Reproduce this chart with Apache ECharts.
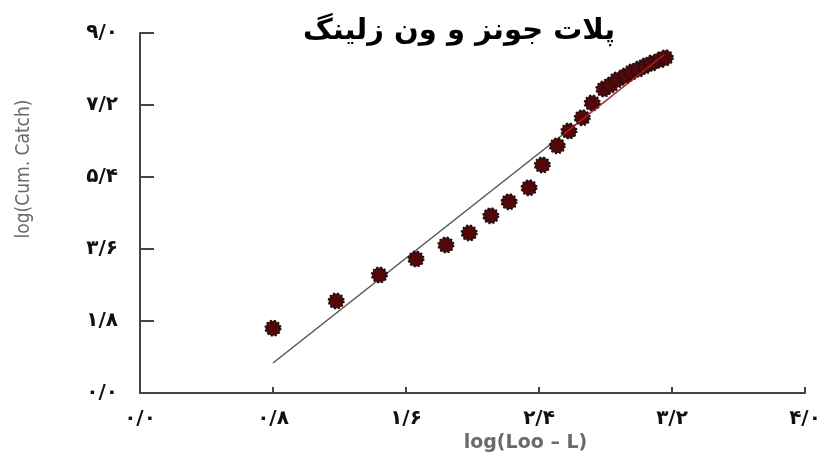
<!DOCTYPE html>
<html lang="fa">
<head>
    <meta charset="UTF-8">
    <title>Jones and van Zalinge plot</title>
    <style>
        html, body { margin: 0; padding: 0; background: #fff; }
        #chart { width: 827px; height: 452px; }
    </style>
</head>
<body>
<div id="chart"></div>
<script src="https://cdn.jsdelivr.net/npm/echarts@6/dist/echarts.min.js"></script>
<script>
    // log(Loo - L) vs log(Cum. Catch)
    var logLooL = [0.80, 1.18, 1.44, 1.66, 1.84, 1.98, 2.11, 2.22, 2.34, 2.42, 2.51, 2.58, 2.66, 2.72,
        2.79, 2.83, 2.87, 2.92, 2.96, 3.00, 3.04, 3.08, 3.13, 3.16];
    var logCumCatch = [1.62, 2.30, 2.95, 3.35, 3.70, 4.00, 4.43, 4.78, 5.13, 5.70, 6.18, 6.55, 6.88, 7.25,
        7.60, 7.70, 7.83, 7.93, 8.03, 8.10, 8.18, 8.25, 8.33, 8.38];
    // fitted line ends
    var fitX = [0.80, 3.15];
    var fitY = [0.75, 8.45];
    // red part of the fit over the upper points
    var fitRedX = [2.55, 3.15];
    var fitRedY = [6.47, 8.45];

    var persian = '۰۱۲۳۴۵۶۷۸۹';
    var fmt = function (v) {
        return v.toFixed(1).replace('.', '/').replace(/[0-9]/g, function (d) {
            return persian[+d];
        });
    };
    var pairs = function (xs, ys) {
        return xs.map(function (x, i) { return [x, ys[i]]; });
    };

    var axisColor = '#444';
    var labelFont = {
        color: '#111',
        fontFamily: 'DejaVu Sans',
        fontWeight: 'bold',
        fontSize: 20
    };

    var option = {
        animation: false,
        backgroundColor: '#fff',
        title: {
            text: 'پلات جونز و ون زلینگ',
            left: 298,
            top: 12,
            textStyle: {
                fontFamily: 'DejaVu Sans',
                fontWeight: 'bold',
                fontSize: 29,
                color: '#000'
            }
        },
        grid: {
            left: 140,
            right: 22,
            top: 33,
            bottom: 59,
            outerBoundsMode: 'none'
        },
        xAxis: {
            type: 'value',
            min: 0,
            max: 4,
            interval: 0.8,
            name: 'log(Loo – L)',
            nameLocation: 'middle',
            nameGap: 38,
            nameTextStyle: {
                color: '#6a6a6a',
                fontFamily: 'DejaVu Sans',
                fontWeight: 'bold',
                fontSize: 19,
                padding: [0, 0, 0, 106]
            },
            axisLine: { lineStyle: { color: axisColor, width: 2 } },
            axisTick: { inside: true, length: 6, lineStyle: { color: axisColor, width: 2 } },
            axisLabel: Object.assign({ margin: 16, formatter: fmt }, labelFont),
            splitLine: { show: false }
        },
        yAxis: {
            type: 'value',
            min: 0,
            max: 9,
            interval: 1.8,
            name: 'log(Cum. Catch)',
            nameLocation: 'middle',
            nameGap: 106,
            nameRotate: 90,
            nameTextStyle: {
                color: '#6a6a6a',
                fontFamily: 'Liberation Sans Narrow, DejaVu Sans Condensed, Liberation Sans, sans-serif',
                fontSize: 19,
                padding: [0, 0, 0, 88]
            },
            axisLine: { show: true, lineStyle: { color: axisColor, width: 2 } },
            axisTick: { show: true, inside: true, length: 14, lineStyle: { color: axisColor, width: 2 } },
            axisLabel: Object.assign({ margin: 22, formatter: fmt }, labelFont),
            splitLine: { show: false }
        },
        series: [
            {
                type: 'line',
                data: pairs(fitX, fitY),
                symbol: 'none',
                lineStyle: { color: '#555', width: 1.5 },
                z: 1
            },
            {
                type: 'scatter',
                data: pairs(logLooL, logCumCatch),
                symbol: 'circle',
                symbolSize: 15,
                itemStyle: {
                    color: '#520808',
                    borderColor: '#111',
                    borderWidth: 2,
                    borderType: [2, 2],
                    opacity: 1
                },
                z: 2
            },
            {
                type: 'line',
                data: pairs(fitRedX, fitRedY),
                symbol: 'none',
                lineStyle: { color: '#d8262a', width: 1.5, opacity: 0.7 },
                z: 3
            }
        ]
    };

    var myChart = echarts.init(document.getElementById('chart'));
    myChart.setOption(option);
</script>
</body>
</html>
